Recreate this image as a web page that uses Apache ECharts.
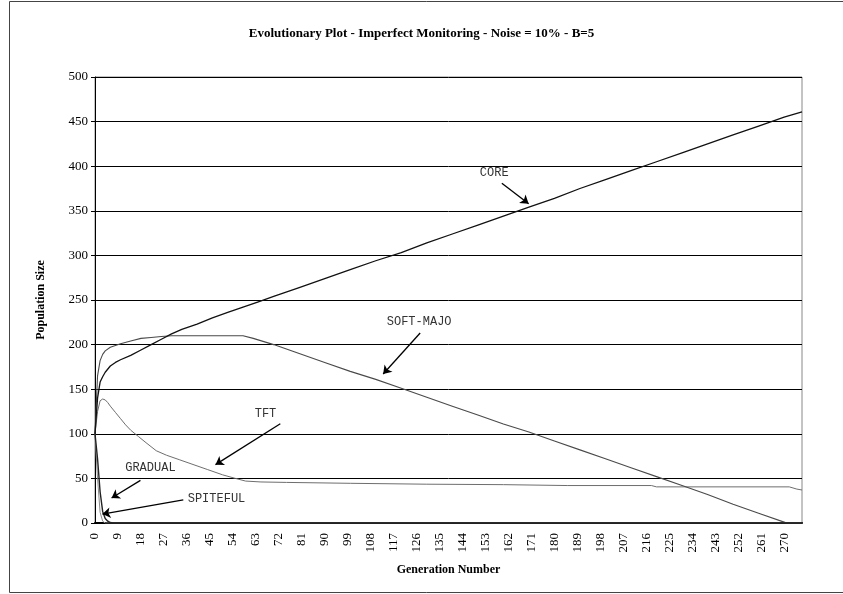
<!DOCTYPE html>
<html>
<head>
<meta charset="utf-8">
<script src="https://cdn.jsdelivr.net/npm/echarts@6/dist/echarts.min.js"></script>
<style>html,body{margin:0;padding:0;background:#fff;}#c{width:843px;height:594px;}</style>
</head>
<body>
<div id="c"></div>
<script>
// ---- data (generation, population) ----
const coreData = [[0,100],[1,140],[2,158],[3,164],[4,169],[6,176],[8,180],[10,183],[14,188],[18,194],[22,200],[26,206],[30,212],[34,217],[40,223],[46,230],[52,236],[58,242],[64,248],[70,254],[80,264],[90,274],[100,284],[110,294],[120,303],[130,314],[140,324],[150,334],[160,344],[170,354],[180,364],[190,375],[200,385],[210,395],[220,405],[230,415],[240,425],[250,435],[260,445],[270,455],[277,461]];
const softMajoData = [[0,100],[1,165],[2,182],[3,189],[4,193],[6,197],[8,199],[10,201],[14,204],[18,207],[22,208],[26,209],[30,210],[40,210],[50,210],[58,210],[62,207],[70,200],[80,190],[90,180],[100,170],[110,161],[120,151],[130,141],[140,131],[150,121],[160,111],[170,102],[180,92],[190,82],[200,72],[210,62],[220,52],[230,42],[240,32],[250,21],[260,11],[270,1],[271,0],[277,0]];
const tftData = [[0,100],[1,125],[2,137],[3,139],[4,138],[5,135],[6,131],[8,124],[10,117],[12,110],[14,104],[17,97],[20,90],[24,81],[28,76],[33,71],[38,66],[44,60],[50,54],[55,50],[59,47],[65,46],[75,45.5],[100,44.5],[130,43.5],[160,43],[185,42],[218,42],[220,40.5],[272,40.5],[275,38],[277,37]];
const gradualData = [[0,100],[1,50],[2,12],[3,2],[4,0],[277,0]];
const spitefulData = [[0,100],[1,72],[2,35],[3,13],[4,5],[5,2],[6,0.5],[7,0],[277,0]];

const seriesNames = ['CORE','SOFT-MAJO','TFT','GRADUAL','SPITEFUL'];
// annotation labels: [text, gen, value]
const annotationLabels = [['CORE',156.4,393],['SOFT-MAJO',127,226],['TFT',66.8,122],['GRADUAL',21.7,61.7],['SPITEFUL',47.6,26.9]];
// annotation arrows: [fromGen, fromVal, toGen, toVal]
const annotationArrows = [[159.4,381,169.9,358],[127.4,213,112.9,167],[72.6,111.3,47.2,65.4],[17.8,47.8,6.5,28],[34.6,26,2.9,10]];

const yMin = 0, yMax = 500, yStep = 50;
const xMin = 0, xMax = 277, xStep = 9;

const chart = echarts.init(document.getElementById('c'), null, {renderer:'canvas'});
const serif = 'Liberation Serif';

function lineSeries(name, data, color, width, z) {
  return {
    name: name, type: 'line', data: data, showSymbol: false, symbol: 'none',
    lineStyle: {color: color, width: width}, itemStyle: {color: color},
    z: z, animation: false, silent: true
  };
}

const series = [
  lineSeries(seriesNames[3], gradualData, '#8a8a8a', 1, 3),
  lineSeries(seriesNames[4], spitefulData, '#222', 1.4, 4),
  lineSeries(seriesNames[2], tftData, '#6e6e6e', 1, 3),
  lineSeries(seriesNames[1], softMajoData, '#4a4a4a', 1.1, 3),
  lineSeries(seriesNames[0], coreData, '#111', 1.3, 5)
];

series[4].markLine = {
  silent: true, animation: false,
  symbol: ['none','arrow'], symbolSize: 8,
  label: {show: false},
  itemStyle: {color: '#000'},
  lineStyle: {color: '#000', width: 1.3, type: 'solid'},
  data: annotationArrows.map(a => [{coord:[a[0],a[1]]},{coord:[a[2],a[3]]}])
};
series[4].markPoint = {
  silent: true, animation: false,
  symbol: 'rect', symbolSize: 1,
  itemStyle: {color: 'rgba(0,0,0,0)'},
  label: {show: true, position: 'inside', formatter: '{b}', fontFamily: 'Liberation Mono', fontSize: 12, color: '#333'},
  data: annotationLabels.map(l => ({name: l[0], coord: [l[1], l[2]]}))
};

chart.setOption({
  backgroundColor: '#fff',
  animation: false,
  title: {
    text: 'Evolutionary Plot - Imperfect Monitoring - Noise = 10% - B=5',
    left: 'center', top: 22,
    textStyle: {fontFamily: serif, fontWeight: 'bold', fontSize: 13, color: '#000'}
  },
  graphic: [{
    type: 'rect', silent: true, z: 0,
    shape: {x: 9.5, y: 1.5, width: 845, height: 591},
    style: {fill: 'none', stroke: '#444', lineWidth: 1}
  }],
  grid: {left: 95, right: 41, top: 77, bottom: 71, show: true, borderColor: '#888', borderWidth: 1, backgroundColor: 'transparent'},
  xAxis: {
    type: 'value', min: xMin, max: xMax, interval: xStep,
    name: 'Generation Number', nameLocation: 'middle', nameGap: 41,
    nameTextStyle: {fontFamily: serif, fontWeight: 'bold', fontSize: 12, color: '#000'},
    axisLine: {show: true, onZero: false, lineStyle: {color: '#000', width: 2}},
    axisTick: {show: false},
    axisLabel: {rotate: 90, margin: 10, showMaxLabel: false, fontFamily: serif, fontSize: 13, color: '#000'},
    splitLine: {show: false}
  },
  yAxis: {
    type: 'value', min: yMin, max: yMax, interval: yStep,
    name: 'Population Size', nameLocation: 'middle', nameGap: 48, nameRotate: 90,
    nameTextStyle: {fontFamily: serif, fontWeight: 'bold', fontSize: 12, color: '#000'},
    axisLine: {show: true, lineStyle: {color: '#000', width: 1}},
    axisTick: {show: true, length: 4, lineStyle: {color: '#000'}},
    axisLabel: {margin: 7, fontFamily: serif, fontSize: 13, color: '#000'},
    splitLine: {show: true, lineStyle: {color: '#000', width: 1}}
  },
  series: series
});
</script>
</body>
</html>
